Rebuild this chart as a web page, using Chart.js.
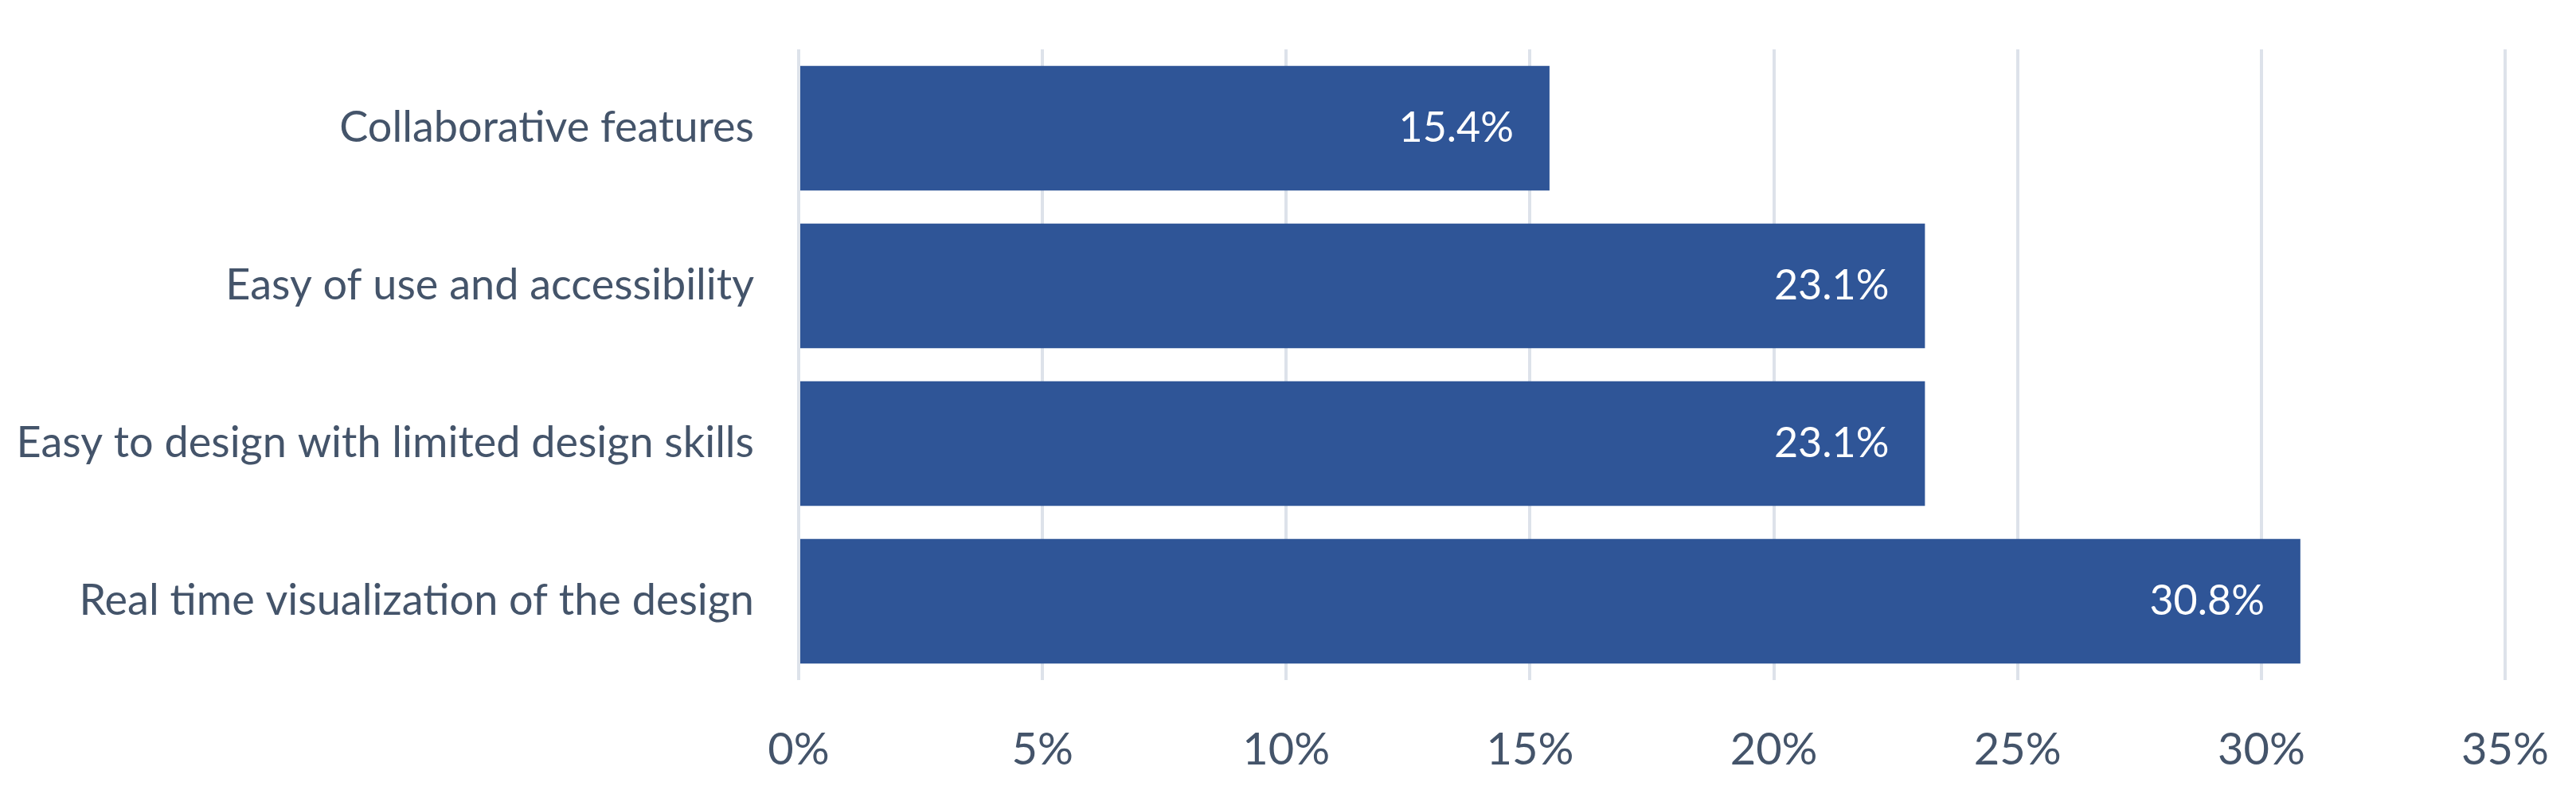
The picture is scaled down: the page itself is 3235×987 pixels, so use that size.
<!DOCTYPE html>
<html>
<head>
<meta charset="utf-8">
<script src="https://cdn.jsdelivr.net/npm/chart.js@4.4.1/dist/chart.umd.min.js"></script>
<style>
  html, body { margin: 0; padding: 0; background: #ffffff; }
  #wrap { width: 3235px; height: 987px; position: relative; }
</style>
</head>
<body>
<div id="wrap"><canvas id="chart"></canvas></div>
<script>
// ── Data ──────────────────────────────────────────────────
const categories = [
  "Collaborative features",
  "Easy of use and accessibility",
  "Easy to design with limited design skills",
  "Real time visualization of the design"
];
const shareValues = [15.4, 23.1, 23.1, 30.8];
const tickValues = [0, 5, 10, 15, 20, 25, 30, 35];

// ── Style ─────────────────────────────────────────────────
const FONT = "Lato, 'Open Sans', sans-serif";
const TEXT = "#44546a";
const BAR = "#2f5597";
const GRID = "#dde2ea";

// value labels drawn inside bar end
const barLabels = {
  id: "barLabels",
  afterDatasetsDraw(chart) {
    const { ctx } = chart;
    const meta = chart.getDatasetMeta(0);
    ctx.save();
    ctx.fillStyle = "#ffffff";
    ctx.font = `52px ${FONT}`;
    ctx.textAlign = "right";
    ctx.textBaseline = "middle";
    meta.data.forEach((bar, i) => {
      ctx.fillText(shareValues[i].toFixed(1) + "%", bar.x - 45, bar.y);
    });
    ctx.restore();
  }
};

new Chart(document.getElementById("chart"), {
  type: "bar",
  data: {
    labels: categories,
    datasets: [{
      data: shareValues,
      backgroundColor: BAR,
      borderWidth: 0,
      barPercentage: 0.79,
      categoryPercentage: 1
    }]
  },
  options: {
    indexAxis: "y",
    responsive: true,
    maintainAspectRatio: false,
    animation: false,
    layout: { padding: { top: 62, right: 89, left: 0, bottom: 0 } },
    plugins: { legend: { display: false }, tooltip: { enabled: false } },
    scales: {
      x: {
        min: 0,
        max: 35,
        afterBuildTicks: (s) => { s.ticks = tickValues.map((v) => ({ value: v })); },
        afterFit: (s) => { s.height = 133; s.paddingLeft = 0; s.paddingRight = 0; },
        grid: { color: GRID, lineWidth: 4, drawTicks: false },
        border: { display: false },
        ticks: {
          padding: 54,
          color: TEXT,
          font: { family: FONT, size: 56 },
          callback: (v) => v + "%"
        }
      },
      y: {
        afterFit: (s) => { s.width = 1003; s.paddingTop = 0; s.paddingBottom = 0; },
        grid: { display: false, drawTicks: false },
        border: { display: false },
        ticks: {
          padding: 56,
          color: TEXT,
          font: { family: FONT, size: 54 }
        }
      }
    }
  },
  plugins: [barLabels]
});
</script>
</body>
</html>
